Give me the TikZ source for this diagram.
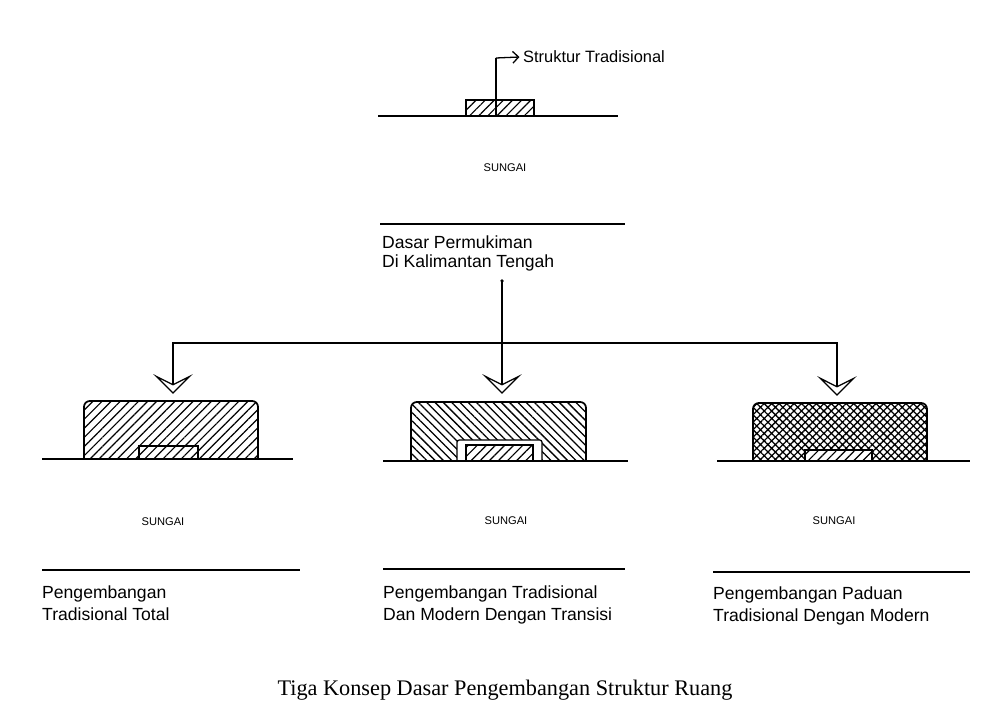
\documentclass[tikz,border=0pt]{standalone}
\usepackage{fontspec}
\setmainfont{Liberation Serif}
\setsansfont{Liberation Sans}
\usetikzlibrary{arrows.meta,patterns.meta}

\begin{document}
\begin{tikzpicture}[
    x=0.03cm, y=-0.03cm,
    ground/.style={line width=1.4pt},
    link/.style={line width=1.1pt},
    chev/.style={link, -{Stealth[open, length=17pt, width=34pt, inset=8.5pt, line width=1.1pt]},
                 shorten >=6pt},
    hand/.style={font=\sffamily\fontsize{15}{15.5}\selectfont, align=left,
                 inner sep=0pt, anchor=north west},
    river/.style={font=\sffamily\fontsize{9.5}{11}\selectfont, inner sep=0pt},
    block/.style={line width=1.5pt, rounded corners=5pt},
    nehatch/.style={pattern={Lines[angle=45, distance=5.5pt, line width=1pt]}},
    nwhatch/.style={pattern={Lines[angle=-45, distance=5pt, line width=1.1pt]}},
    xhatch/.style={pattern={Hatch[angle=45, distance=4.5pt, line width=1.1pt]}}
]
    \useasboundingbox (0,0) rectangle (1006,713);

    % top: traditional structure on the river
    \draw[ground] (378,116) -- (618,116);
    \node[draw, line width=1.1pt, nehatch, minimum width=2.04cm, minimum height=0.48cm,
          inner sep=0pt] (trad) at (500,108) {};
    \coordinate (tradBend) at (496,58);
    \node[hand, font=\sffamily\fontsize{14}{15}\selectfont, anchor=west] (tradLbl) at (523,57) {Struktur Tradisional};
    \draw[link] (trad.south -| tradBend) -- (tradBend);
    \draw[link, -{Straight Barb[length=5pt, width=10pt]}] (tradBend) -- ([xshift=-3pt]tradLbl.west);
    \node[river] (sungaiTop) at (505,168) {SUNGAI};
    \draw[ground] (380,224) -- (625,224);
    \node[hand] (dasar) at (382,236) {Dasar Permukiman\\Di Kalimantan Tengah};

    % branching
    \coordinate (trunkTop) at (502,281);
    \coordinate (junction) at (502,343);
    \coordinate (leftTop) at (173,401);
    \coordinate (midTop) at (502,401);
    \coordinate (rightTop) at (837,403);
    \fill (trunkTop) circle (1.5pt);
    \draw[chev] (trunkTop) -- (midTop);
    \draw[chev] (junction) -| (leftTop);
    \draw[chev] (junction) -| (rightTop);

    % left: total traditional
    \draw[block, nehatch] (84,459) |- (171,401) -| (258,459);
    \draw[line width=1.1pt, fill=white] (139,459) rectangle (198,446);
    \draw[line width=1.1pt, nehatch] (139,459) rectangle (198,446);
    \draw[ground] (42,459) -- (293,459);
    \node[river] (sungaiL) at (163,522) {SUNGAI};
    \draw[ground] (42,570) -- (300,570);
    \node[hand, font=\sffamily\fontsize{15}{18}\selectfont] (textL) at (42,586) {Pengembangan\\Tradisional Total};

    % middle: traditional and modern with transition
    \draw[block, nwhatch] (411,461) |- (498,402) -| (586,461);
    \draw[line width=1.1pt, fill=white, rounded corners=2pt] (457,461) |- (500,440) -| (542,461);
    \draw[line width=1.1pt, nehatch] (466,461) rectangle (533,445);
    \draw[ground] (383,461) -- (628,461);
    \node[river] (sungaiM) at (506,521) {SUNGAI};
    \draw[ground] (383,569) -- (625,569);
    \node[hand, font=\sffamily\fontsize{15}{18}\selectfont] (textM) at (383,586) {Pengembangan Tradisional\\Dan Modern Dengan Transisi};

    % right: blend of traditional and modern
    \draw[block, xhatch] (753,461) |- (840,403) -| (927,461);
    \draw[line width=1.1pt, fill=white] (805,461) rectangle (872,450);
    \draw[line width=1.1pt, nehatch] (805,461) rectangle (872,450);
    \draw[ground] (717,461) -- (970,461);
    \node[river] (sungaiR) at (834,521) {SUNGAI};
    \draw[ground] (713,572) -- (970,572);
    \node[hand, font=\sffamily\fontsize{15}{18}\selectfont] (textR) at (713,587) {Pengembangan Paduan\\Tradisional Dengan Modern};

    % caption
    \node[font=\fontsize{19}{22}\selectfont, inner sep=0pt] (caption) at (505,690) {Tiga Konsep Dasar Pengembangan Struktur Ruang};
\end{tikzpicture}
\end{document}
